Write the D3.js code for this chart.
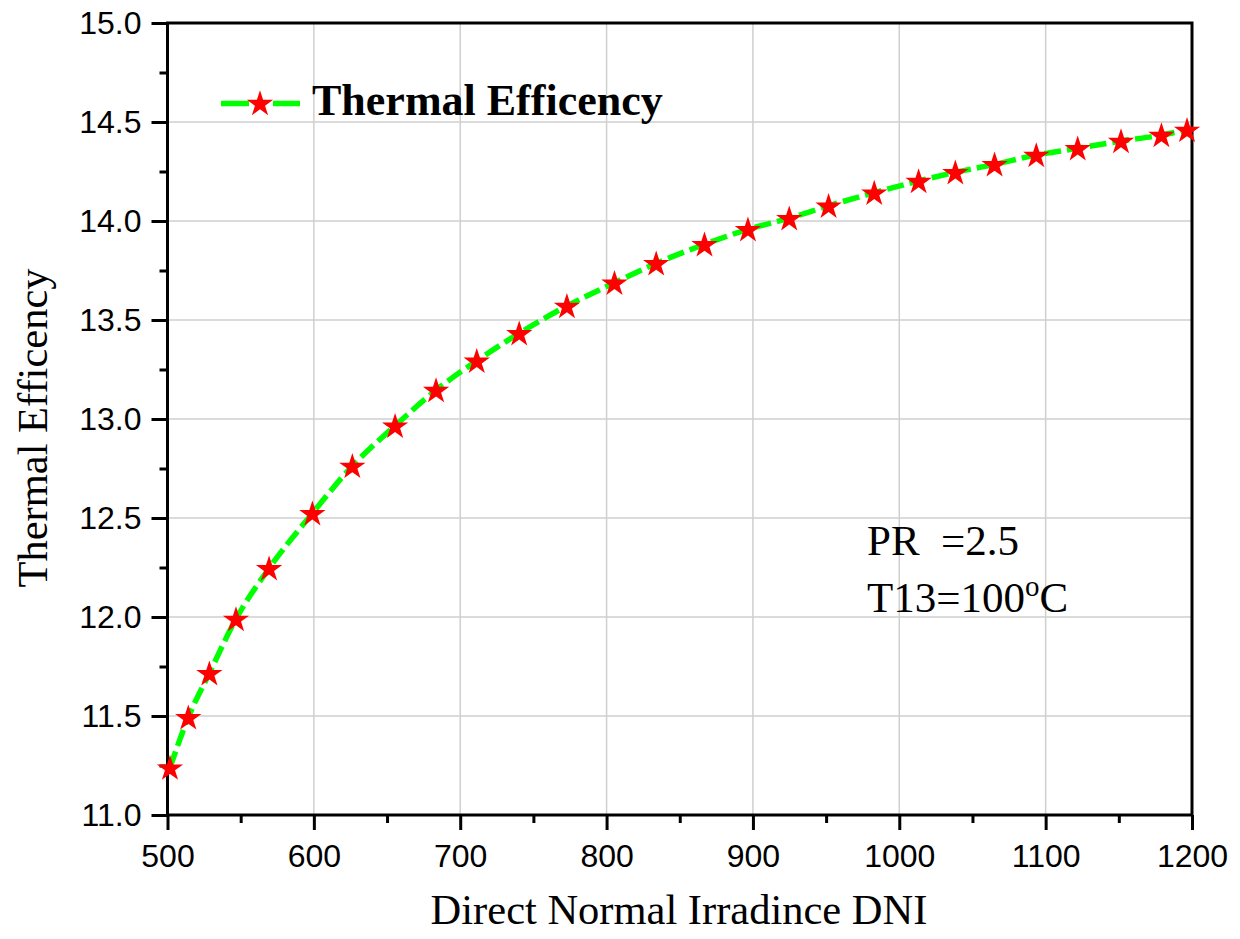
<!DOCTYPE html>
<html>
<head>
<meta charset="utf-8">
<script src="https://cdn.jsdelivr.net/npm/d3@7"></script>
<style>
  html, body { margin: 0; padding: 0; background: #fff; }
  svg { display: block; }
</style>
</head>
<body>
<svg id="chart" width="1240" height="939"></svg>
<script>
// ---- Data ----
const dni = [501.7, 514.2, 528.6, 546.8, 569.4, 599.0, 626.3, 655.5, 683.5, 711.3,
             740.3, 772.9, 805.4, 833.9, 866.9, 896.6, 924.8, 951.7, 982.9, 1013.2,
             1038.3, 1065.1, 1093.6, 1121.9, 1151.5, 1179.1, 1196.6];
const efficiency = [11.239, 11.493, 11.716, 11.990, 12.246, 12.524, 12.763, 12.966, 13.146, 13.294,
                    13.433, 13.571, 13.688, 13.786, 13.882, 13.958, 14.014, 14.077, 14.143, 14.202,
                    14.246, 14.286, 14.333, 14.367, 14.404, 14.434, 14.460];
const xTicks = [500, 600, 700, 800, 900, 1000, 1100, 1200];
const xMinorTicks = [550, 650, 750, 850, 950, 1050, 1150];
const yTicks = [11.0, 11.5, 12.0, 12.5, 13.0, 13.5, 14.0, 14.5, 15.0];
const yMinorTicks = [11.25, 11.75, 12.25, 12.75, 13.25, 13.75, 14.25, 14.75];
const seriesName = "Thermal Efficency";
const xTitle = "Direct Normal Irradince DNI";
const yTitle = "Thermal Efficency";

(function () {
// ---- Layout ----
const svg = d3.select("#chart");
const pL = 167.5, pR = 1192, pT = 23, pB = 815;
const x = d3.scaleLinear().domain([500, 1200]).range([pL, pR]);
const y = d3.scaleLinear().domain([11, 15]).range([pB, pT]);

const sans = "'Liberation Sans', Arial, sans-serif";
const serif = "'Liberation Serif', 'Times New Roman', serif";

// gridlines
const grid = svg.append("g");
grid.selectAll("line.gx").data(xTicks.slice(1, -1)).join("line")
  .attr("x1", d => x(d)).attr("x2", d => x(d))
  .attr("y1", pT).attr("y2", pB)
  .attr("stroke", "#cfcfcf").attr("stroke-width", 1.5);
grid.selectAll("line.gy").data(yTicks.slice(1, -1)).join("line")
  .attr("x1", pL).attr("x2", pR)
  .attr("y1", d => y(d)).attr("y2", d => y(d))
  .attr("stroke", "#cfcfcf").attr("stroke-width", 1.5);

// axes
const xAxis = d3.axisBottom(x).tickValues(xTicks).tickSize(15).tickPadding(14).tickFormat(d3.format("d"));
const yAxis = d3.axisLeft(y).tickValues(yTicks).tickSize(16).tickPadding(10).tickFormat(d3.format(".1f"));
const xMinor = d3.axisBottom(x).tickValues(xMinorTicks).tickSize(8).tickFormat("");
const yMinor = d3.axisLeft(y).tickValues(yMinorTicks).tickSize(8).tickFormat("");

function styleAxis(g) {
  g.select(".domain").remove();
  g.selectAll(".tick line").attr("stroke", "#000").attr("stroke-width", 3);
  g.selectAll(".tick text").attr("fill", "#000").style("font-family", sans).style("font-size", "32px");
}
svg.append("g").attr("transform", `translate(0,${pB})`).call(xAxis).call(styleAxis);
svg.append("g").attr("transform", `translate(0,${pB})`).call(xMinor).call(styleAxis);
svg.append("g").attr("transform", `translate(${pL},0)`).call(yAxis).call(styleAxis);
svg.append("g").attr("transform", `translate(${pL},0)`).call(yMinor).call(styleAxis);

// frame
svg.append("rect").attr("x", pL).attr("y", pT)
  .attr("width", pR - pL).attr("height", pB - pT)
  .attr("fill", "none").attr("stroke", "#000").attr("stroke-width", 3);

// series
const data = dni.map((d, i) => ({ x: d, y: efficiency[i] }));
const line = d3.line().x(d => x(d.x)).y(d => y(d.y)).curve(d3.curveMonotoneX);
svg.append("path").datum(data)
  .attr("d", line)
  .attr("fill", "none").attr("stroke", "#00ff00").attr("stroke-width", 5.5)
  .attr("stroke-dasharray", "17,6");

const star = d3.symbol().type(d3.symbolStar).size(215);
svg.selectAll("path.star").data(data).join("path")
  .attr("class", "star")
  .attr("d", star)
  .attr("transform", d => `translate(${x(d.x)},${y(d.y) + 1})`)
  .attr("fill", "#ff0000");

// legend
const lg = svg.append("g");
lg.append("line").attr("x1", 221).attr("x2", 300).attr("y1", 103.5).attr("y2", 103.5)
  .attr("stroke", "#00ff00").attr("stroke-width", 5.5).attr("stroke-dasharray", "28,24");
lg.append("path").attr("d", star).attr("transform", "translate(260,104)").attr("fill", "#ff0000");
lg.append("text").attr("x", 312).attr("y", 114.5).text(seriesName)
  .style("font-family", serif).style("font-weight", "bold").style("font-size", "44px").attr("fill", "#000");

// axis titles
svg.append("text").attr("x", 679).attr("y", 924).attr("text-anchor", "middle")
  .text(xTitle).style("font-family", serif).style("font-size", "42.5px").attr("fill", "#000");
svg.append("text").attr("transform", "translate(47,428) rotate(-90)").attr("text-anchor", "middle")
  .text(yTitle).style("font-family", serif).style("font-size", "42.5px").attr("fill", "#000");

// annotation
const ann = svg.append("g").style("font-family", serif).style("font-size", "43px").attr("fill", "#000");
ann.append("text").attr("x", 867).attr("y", 555).attr("xml:space", "preserve").text("PR  =2.5");
const t2 = ann.append("text").attr("x", 867).attr("y", 611.5);
t2.append("tspan").text("T13=100");
t2.append("tspan").attr("dy", -16).style("font-size", "29px").text("o");
t2.append("tspan").attr("dy", 16).text("C");
})();
</script>
</body>
</html>
